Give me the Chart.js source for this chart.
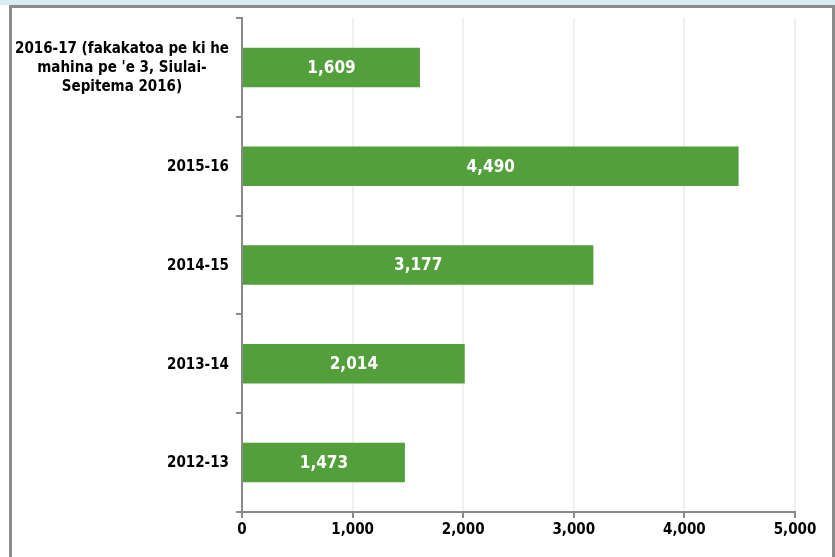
<!DOCTYPE html>
<html>
<head>
  <title>Bar chart</title>
  <style>
    body {
      margin: 0;
      overflow: hidden;
      background: #ffffff;
    }
    #top-band {
      position: absolute;
      left: 0;
      top: 0;
      width: 835px;
      height: 5px;
      background-color: #d8edf2;
    }
    #frame {
      position: absolute;
      left: 9px;
      top: 5px;
      width: 820px;
      height: 560px;
      border-left: 3px solid #8c8c8c;
      border-top: 3px solid #8c8c8c;
      border-right: 3px solid #8c8c8c;
    }
    #chart {
      position: absolute;
      left: 0;
      top: 0;
    }
  </style>
</head>
<body>
  <div id="top-band"></div>
  <div id="frame"></div>
  <canvas id="chart" width="835" height="557"></canvas>
  <script src="https://cdn.jsdelivr.net/npm/chart.js"></script>
  <script>
    // data
    const categories = [
      ["2016-17 (fakakatoa pe ki he", "mahina pe 'e 3, Siulai-", "Sepitema 2016)"],
      "2015-16",
      "2014-15",
      "2013-14",
      "2012-13"
    ];
    const values = [1609, 4490, 3177, 2014, 1473];
    const xTicks = [0, 1000, 2000, 3000, 4000, 5000];

    const FONT = "'DejaVu Sans Condensed', 'DejaVu Sans', sans-serif";
    const axisGray = "#8a8a8a";

    // value labels inside the bars
    const barLabels = {
      id: "barLabels",
      afterDatasetsDraw(chart) {
        const ctx = chart.ctx;
        const meta = chart.getDatasetMeta(0);
        ctx.save();
        ctx.font = "bold 17px " + FONT;
        ctx.fillStyle = "#ffffff";
        ctx.textAlign = "center";
        ctx.textBaseline = "middle";
        meta.data.forEach((bar, i) => {
          ctx.fillText(values[i].toLocaleString("en-US"), (bar.x + bar.base) / 2, bar.y + 1);
        });
        ctx.restore();
      }
    };

    // category labels: block right-aligned, lines centered within the block
    const catLabels = {
      id: "catLabels",
      afterDraw(chart) {
        const ctx = chart.ctx;
        const y = chart.scales.y;
        const right = y.right - 13;
        const lineH = 19;
        ctx.save();
        ctx.font = "bold 15px " + FONT;
        ctx.fillStyle = "#000000";
        ctx.textAlign = "center";
        ctx.textBaseline = "middle";
        categories.forEach((cat, i) => {
          const lines = Array.isArray(cat) ? cat : [cat];
          const widest = Math.max(...lines.map(l => ctx.measureText(l).width));
          const cx = right - widest / 2;
          const cy = y.getPixelForTick(i) + 1;
          lines.forEach((l, j) => {
            ctx.fillText(l, cx, cy + (j - (lines.length - 1) / 2) * lineH);
          });
        });
        ctx.restore();
      }
    };

    new Chart(document.getElementById("chart"), {
      type: "bar",
      data: {
        labels: categories,
        datasets: [{
          data: values,
          backgroundColor: "#539f3b",
          borderWidth: 0,
          barPercentage: 0.4,
          categoryPercentage: 1
        }]
      },
      options: {
        indexAxis: "y",
        responsive: false,
        animation: false,
        layout: {
          padding: { left: 0, right: 40, top: 18, bottom: 0 }
        },
        plugins: {
          legend: { display: false },
          tooltip: { enabled: false }
        },
        scales: {
          x: {
            min: 0,
            max: 5000,
            afterBuildTicks(scale) {
              scale.ticks = xTicks.map(v => ({ value: v }));
            },
            afterFit(scale) {
              scale.height = 45;
            },
            grid: {
              color: "#f0f0f0",
              lineWidth: 2,
              tickColor: axisGray,
              tickLength: 6
            },
            border: { color: axisGray, width: 2 },
            ticks: {
              padding: 3,
              color: "#000000",
              font: { family: FONT, size: 15, weight: "bold" },
              callback: v => v.toLocaleString("en-US")
            }
          },
          y: {
            afterFit(scale) {
              scale.width = 242;
            },
            grid: {
              drawOnChartArea: false,
              tickColor: axisGray,
              tickLength: 6,
              lineWidth: 2
            },
            border: { color: axisGray, width: 2 },
            ticks: { display: false }
          }
        }
      },
      plugins: [barLabels, catLabels]
    });
  </script>
</body>
</html>
